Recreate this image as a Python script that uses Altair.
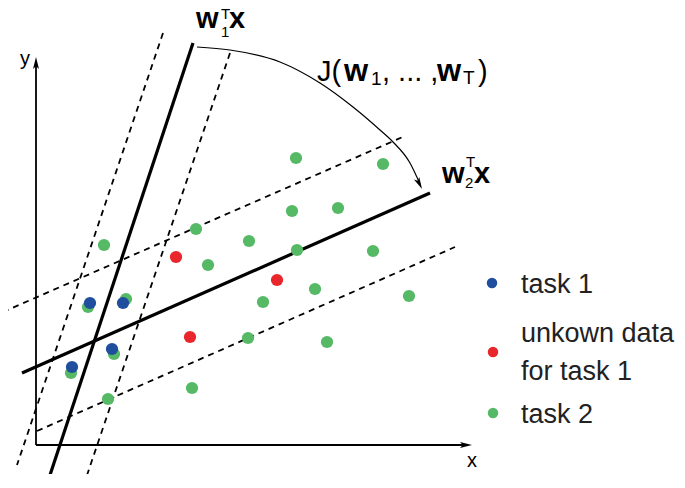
import altair as alt
import pandas as pd

# ---- data (reference pixel space: x right, y down) ----
green_x = [104, 196, 208, 88, 126, 114, 71, 108, 192, 296, 292, 338, 249, 297, 315, 263, 248, 327, 383, 373, 409]
green_y = [245, 229, 265, 307, 299, 354, 373, 399, 388, 158, 211, 208, 241, 250, 289, 302, 338, 342, 164, 251, 296]
red_x = [176, 277, 190]
red_y = [257, 280, 337]
blue_x = [90, 123, 112, 72]
blue_y = [303, 303, 349, 367]

# solid lines w1, w2
solid_x = [193, 22]
solid_y = [43, 373]
solid_x2 = [50, 430]
solid_y2 = [475, 193]
# dashed margins
dash_x = [163, 230, 3, 37]
dash_y = [33, 53, 312, 431]
dash_x2 = [17, 83, 405, 455]
dash_y2 = [465, 487, 136, 247]
# axes (y axis, x axis)
axis_x = [36, 36]
axis_y = [445, 445]
axis_x2 = [36, 468]
axis_y2 = [62, 445]
# arc J
arc_x = [197, 230, 280, 320, 353, 380, 393, 410, 420]
arc_y = [47, 50, 62, 83, 107, 130, 142, 163, 184]
# arrow heads
head_x = [36, 466, 419.3]
head_y = [63, 445, 183.6]
head_angle = [0, 90, 153]

# legend
leg_dot_x = [492, 493, 493]
leg_dot_y = [283, 352, 413]
leg_dot_c = ["#1f4e9e", "#e8262c", "#56b965"]
leg_text = ["task 1", "unkown data", "for task 1", "task 2"]
leg_text_x = [521, 521, 521, 521]
leg_text_y = [293, 342, 380, 423]

FONT = "Liberation Sans"
X0, X1, Y0, Y1 = 8, 677, 8, 474
W, H = X1 - X0, Y1 - Y0

xs = alt.Scale(domain=[X0, X1], nice=False, zero=False)
ys = alt.Scale(domain=[Y0, Y1], nice=False, zero=False, reverse=True)


def X(f="x"):
    return alt.X(f + ":Q", scale=xs, axis=None)


def Y(f="y"):
    return alt.Y(f + ":Q", scale=ys, axis=None)


def pts(xl, yl, color, size):
    df = pd.DataFrame({"x": xl, "y": yl})
    return alt.Chart(df).mark_circle(size=size, color=color, opacity=1).encode(x=X(), y=Y())


def rules(x, y, x2, y2, width, dash=None):
    df = pd.DataFrame({"x": x, "y": y, "x2": x2, "y2": y2})
    kw = dict(color="black", strokeWidth=width, strokeCap="butt")
    if dash:
        kw["strokeDash"] = dash
    return alt.Chart(df).mark_rule(**kw).encode(
        x=X(), y=Y(), x2=alt.X2("x2:Q"), y2=alt.Y2("y2:Q"))


def texts(items, size, weight="normal", color="black"):
    df = pd.DataFrame(items, columns=["t", "x", "y"])
    return alt.Chart(df).mark_text(align="left", baseline="alphabetic", font=FONT,
                                   fontSize=size, fontWeight=weight, color=color).encode(
        x=X(), y=Y(), text="t:N")


layers = []
layers.append(rules(dash_x, dash_y, dash_x2, dash_y2, 1.8, [6, 5]))
layers.append(rules(axis_x, axis_y, axis_x2, axis_y2, 1.8))
layers.append(rules(solid_x, solid_y, solid_x2, solid_y2, 3.2))

arc_df = pd.DataFrame({"x": arc_x, "y": arc_y, "o": list(range(len(arc_x)))})
layers.append(alt.Chart(arc_df).mark_line(color="black", strokeWidth=1.2, interpolate="monotone").encode(
    x=X(), y=Y(), order="o:Q"))

head_df = pd.DataFrame({"x": head_x, "y": head_y, "a": head_angle})
layers.append(alt.Chart(head_df).mark_point(shape="M0,-1L0.5,1L0,0.55L-0.5,1Z", size=144, filled=True,
                                            color="black", opacity=1).encode(
    x=X(), y=Y(), angle=alt.Angle("a:Q", scale=None)))

layers.append(pts(green_x, green_y, "#56b965", 150))
layers.append(pts(red_x, red_y, "#e8262c", 150))
layers.append(pts(blue_x, blue_y, "#1f4e9e", 150))

leg_df = pd.DataFrame({"x": leg_dot_x, "y": leg_dot_y, "c": leg_dot_c})
layers.append(alt.Chart(leg_df).mark_circle(size=110, opacity=1).encode(
    x=X(), y=Y(), color=alt.Color("c:N", scale=None)))
layers.append(texts(list(zip(leg_text, leg_text_x, leg_text_y)), 27, color="#222222"))

# formula labels
layers.append(texts([("w", 196, 28), ("x", 229, 28), ("w", 442, 183), ("x", 474, 183)], 29, "bold"))
layers.append(texts([("w", 344, 81), ("w", 437, 81)], 31, "bold"))
layers.append(texts([("T", 221, 19), ("1", 221, 37), ("T", 466, 167), ("2", 465, 188)], 15))
layers.append(texts([("J(", 317, 81), (", ... ,", 382, 81), (")", 478, 81)], 29))
layers.append(texts([("1", 371, 85), ("T", 463, 84)], 19))
layers.append(texts([("y", 20, 65), ("x", 467, 467)], 20))

chart = alt.layer(*layers).properties(
    width=W, height=H, padding=0, autosize=alt.AutoSizeParams(type="none")
).configure_view(stroke=None)

chart.save("out.html", embed_options={"renderer": "svg", "actions": False})
